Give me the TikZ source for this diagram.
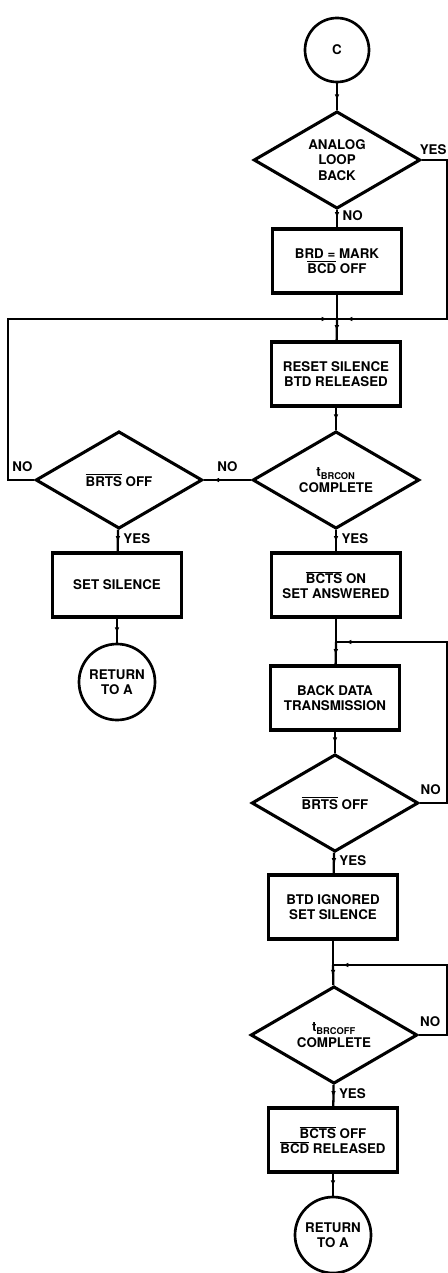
\documentclass[tikz,border=0pt]{standalone}
\usepackage{fontspec}
\setmainfont{TeX Gyre Heros}
\usetikzlibrary{shapes, arrows.meta, positioning, decorations.markings}

\newcommand{\ovl}[1]{$\overline{\mbox{#1}}$}

\begin{document}
\begin{tikzpicture}[x=0.75pt, y=-0.75pt,
        font=\fontsize{10}{11.5}\selectfont\bfseries,
        every node/.style={align=center},
        box/.style={draw, line width=2.3pt, rectangle, minimum width=96.5pt, minimum height=48pt, inner sep=2pt},
        decision/.style={draw, line width=2.3pt, diamond, aspect=1.7, minimum width=125pt, minimum height=73pt, inner sep=0pt},
        terminal/.style={draw, line width=2pt, circle, minimum size=#1, inner sep=0pt},
        flow/.style={line width=1.7pt, postaction={decorate},
            decoration={markings, mark=at position -7pt with {\arrow{Latex[length=4.5pt,width=3.5pt]}}}},
        link/.style={line width=1.7pt},
        back/.style={line width=1.4pt, postaction={decorate},
            decoration={markings, mark=at position -7pt with {\arrow{Latex[length=4.5pt,width=3.5pt]}}}},
    ]
        \useasboundingbox (0,0) rectangle (448,1273);

        \node[terminal=48pt] (c) at (337,50) {C};
        \node[decision] (loopback) at (337,160) {ANALOG\\LOOP\\BACK};
        \node[box] (mark) at (337,261) {BRD = MARK\\\ovl{BCD} OFF};
        \coordinate (j1) at (337,319);
        \node[box] (reset) at (336,374) {RESET SILENCE\\BTD RELEASED};
        \node[decision] (brcon) at (336,480) {t\textsubscript{BRCON}\\COMPLETE};
        \node[decision] (brtsa) at (119,480) {\ovl{BRTS} OFF};
        \node[box] (silence) at (117,585) {SET SILENCE};
        \node[terminal=57pt] (reta) at (117,682) {RETURN\\TO A};
        \node[box] (ctson) at (336,585) {\ovl{BCTS} ON\\SET ANSWERED};
        \coordinate (j2) at (336,642);
        \node[box] (data) at (335,698) {BACK DATA\\TRANSMISSION};
        \node[decision] (brtsb) at (335,803) {\ovl{BRTS} OFF};
        \node[box] (ignored) at (333,907) {BTD IGNORED\\SET SILENCE};
        \coordinate (j3) at (333,965);
        \node[decision] (brcoff) at (334,1035) {t\textsubscript{BRCOFF}\\COMPLETE};
        \node[box] (released) at (333,1140) {\ovl{BCTS} OFF\\\ovl{BCD} RELEASED};
        \node[terminal=57pt] (retb) at (333,1235) {RETURN\\TO A};

        % main column
        \draw[flow] (c) -- (loopback);
        \draw[flow] (loopback) -- node[right, pos=0.3] {NO} (mark);
        \draw[link] (mark) -- (j1);
        \draw[flow] (j1) -- (reset);
        \draw[flow] (reset) -- (brcon);
        \draw[flow] (brcon) -- node[right, pos=0.4] {YES} (ctson);
        \draw[link] (ctson) -- (j2);
        \draw[flow] (j2) -- (data);
        \draw[flow] (data) -- (brtsb);
        \draw[flow] (brtsb) -- node[right, pos=0.4] {YES} (ignored);
        \draw[link] (ignored) -- (j3);
        \draw[flow] (j3) -- (brcoff);
        \draw[flow] (brcoff) -- node[right, pos=0.4] {YES} (released);
        \draw[flow] (released) -- (retb);

        % left branch
        \draw[flow] (brcon) -- node[above=2pt] {NO} (brtsa);
        \draw[flow] (brtsa) -- node[right, pos=0.4] {YES} (silence);
        \draw[flow] (silence) -- (reta);

        % loops back
        \draw[back] (loopback.east) -- node[above, pos=0.5, xshift=-1pt] {YES} (447,160) -- (447,319) -- (j1);
        \draw[back] (brtsa.west) -- node[above=2pt, pos=0.45] {NO} (8,480) -- (8,319) -- (j1);
        \draw[back] (brtsb.east) -- node[above=2pt, pos=0.4] {NO} (447,803) -- (447,642) -- (j2);
        \draw[back] (brcoff.east) -- node[above=2pt, pos=0.4] {NO} (447,1035) -- (447,965) -- (j3);
\end{tikzpicture}
\end{document}
